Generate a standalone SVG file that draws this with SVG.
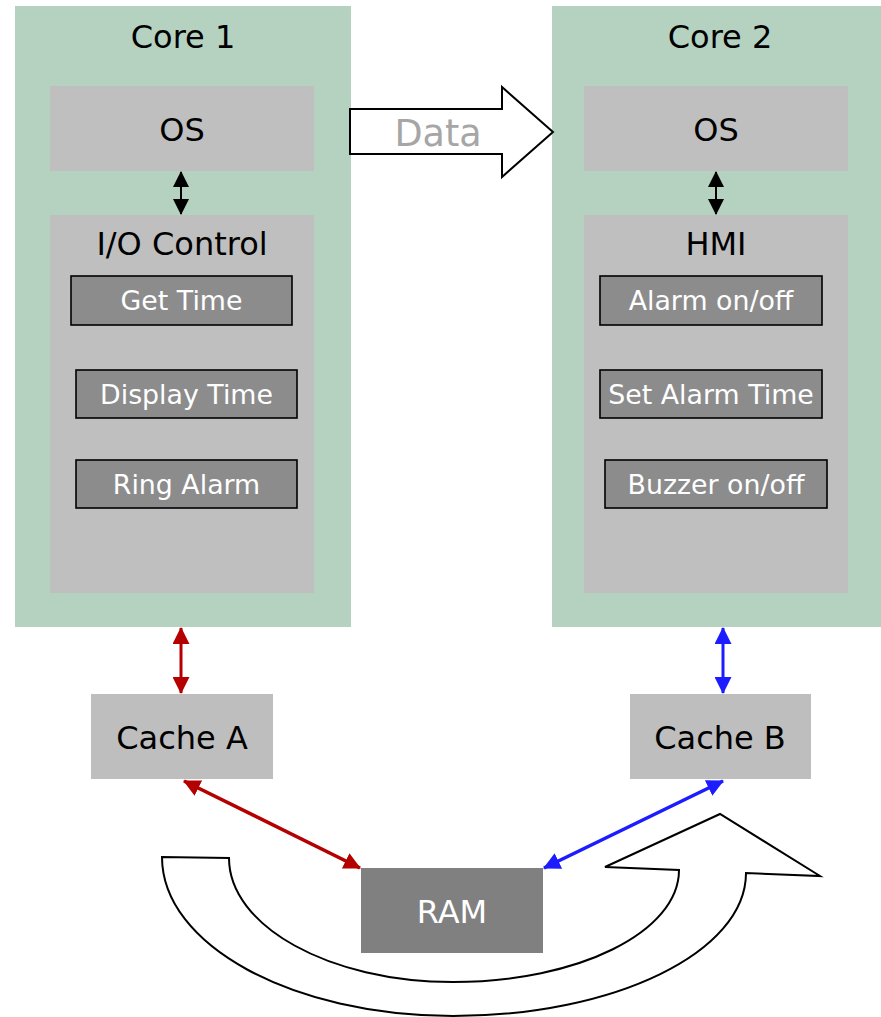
<svg xmlns="http://www.w3.org/2000/svg" width="881" height="1017" viewBox="0 0 881 1017">
  <style>
    text { font-family: "DejaVu Sans", "Liberation Sans", sans-serif; text-anchor: middle; }
    .core { fill: #b5d2c0; }
    .panel { fill: #bfbfbf; }
    .task { fill: #8c8c8c; stroke: #000; stroke-width: 1.6; }
    .cache { fill: #bebebe; }
    .ram { fill: #808080; }
    .big { font-size: 32px; fill: #000; }
    .small { font-size: 26.8px; fill: #fff; }
    .outline { fill: #fff; stroke: #000; stroke-width: 2; stroke-linejoin: miter; }
    .blk { stroke: #000; stroke-width: 2; fill: none; }
    .red { stroke: #b40000; stroke-width: 3; fill: none; }
    .blue { stroke: #1c1cff; stroke-width: 3; fill: none; }
    .diag { stroke-width: 3.6; }
  </style>
  <defs>
    <marker id="headBlack" markerUnits="userSpaceOnUse" markerWidth="16" markerHeight="16" refX="15" refY="8" orient="auto-start-reverse">
      <path d="M0,0 L16,8 L0,16 z" fill="#000"/>
    </marker>
    <marker id="headRed" markerUnits="userSpaceOnUse" markerWidth="17" markerHeight="17" refX="16" refY="8.5" orient="auto-start-reverse">
      <path d="M0,0 L17,8.5 L0,17 z" fill="#b40000"/>
    </marker>
    <marker id="headBlue" markerUnits="userSpaceOnUse" markerWidth="17" markerHeight="17" refX="16" refY="8.5" orient="auto-start-reverse">
      <path d="M0,0 L17,8.5 L0,17 z" fill="#1c1cff"/>
    </marker>
  </defs>

  <rect width="881" height="1017" fill="#fff"/>

  <!-- Core 1 -->
  <g id="core1">
    <rect class="core" x="15" y="6" width="336" height="621"/>
    <text class="big" x="183" y="48">Core 1</text>
  </g>
  <g id="os1">
    <rect class="panel" x="50" y="86" width="264" height="85"/>
    <text class="big" x="182" y="141">OS</text>
  </g>
  <g id="io-control">
    <rect class="panel" x="50" y="215" width="264" height="378"/>
    <text class="big" x="182" y="255">I/O Control</text>
  </g>
  <g id="get-time">
    <rect class="task" x="71" y="276" width="221" height="49"/>
    <text class="small" x="181.5" y="310">Get Time</text>
  </g>
  <g id="display-time">
    <rect class="task" x="76" y="370" width="221" height="48"/>
    <text class="small" x="186.5" y="404">Display Time</text>
  </g>
  <g id="ring-alarm">
    <rect class="task" x="76" y="460" width="221" height="48"/>
    <text class="small" x="186.5" y="494">Ring Alarm</text>
  </g>

  <!-- Core 2 -->
  <g id="core2">
    <rect class="core" x="552" y="6" width="329" height="621"/>
    <text class="big" x="720" y="48">Core 2</text>
  </g>
  <g id="os2">
    <rect class="panel" x="584" y="86" width="264" height="85"/>
    <text class="big" x="716" y="141">OS</text>
  </g>
  <g id="hmi">
    <rect class="panel" x="584" y="215" width="264" height="378"/>
    <text class="big" x="716" y="255">HMI</text>
  </g>
  <g id="alarm-onoff">
    <rect class="task" x="600" y="276" width="222" height="49"/>
    <text class="small" x="711" y="310">Alarm on/off</text>
  </g>
  <g id="set-alarm-time">
    <rect class="task" x="600" y="370" width="222" height="48"/>
    <text class="small" x="711" y="404">Set Alarm Time</text>
  </g>
  <g id="buzzer-onoff">
    <rect class="task" x="605" y="460" width="222" height="48"/>
    <text class="small" x="716" y="494">Buzzer on/off</text>
  </g>

  <!-- Caches and memory -->
  <g id="cache-a">
    <rect class="cache" x="91" y="694" width="182" height="85"/>
    <text class="big" x="182" y="749">Cache A</text>
  </g>
  <g id="cache-b">
    <rect class="cache" x="630" y="694" width="181" height="85"/>
    <text class="big" x="720" y="749">Cache B</text>
  </g>
  <g id="ram">
    <rect class="ram" x="361" y="868" width="182" height="85"/>
    <text class="big" x="452" y="923" style="fill:#fff">RAM</text>
  </g>

  <!-- Data transfer block arrow -->
  <g id="data-arrow">
    <polygon class="outline" points="350,109 502,109 502,87 553,132 502,177 502,154 350,154"/>
    <text x="438" y="146" font-size="36.5" fill="#a6a6a6">Data</text>
  </g>

  <!-- Curved return arrow -->
  <g id="cycle-arrow">
    <path class="outline" d="M162,857 C162,945 292,1016 453,1016 C615,1016 746,952 746,873 L820,876 L720,814 L605,867 L679,870 C679,932 578,982 453,982 C329,982 229,926 229,858 Z"/>
  </g>

  <!-- Connectors -->
  <g id="connectors">
    <line class="blk" x1="181" y1="172" x2="181" y2="214" marker-start="url(#headBlack)" marker-end="url(#headBlack)"/>
    <line class="blk" x1="716" y1="172" x2="716" y2="214" marker-start="url(#headBlack)" marker-end="url(#headBlack)"/>
    <line class="red" x1="181" y1="628" x2="181" y2="693" marker-start="url(#headRed)" marker-end="url(#headRed)"/>
    <line class="blue" x1="723" y1="628" x2="723" y2="693" marker-start="url(#headBlue)" marker-end="url(#headBlue)"/>
    <line class="red diag" x1="184" y1="781" x2="360" y2="868" marker-start="url(#headRed)" marker-end="url(#headRed)"/>
    <line class="blue diag" x1="723" y1="781" x2="544" y2="868" marker-start="url(#headBlue)" marker-end="url(#headBlue)"/>
  </g>
</svg>
